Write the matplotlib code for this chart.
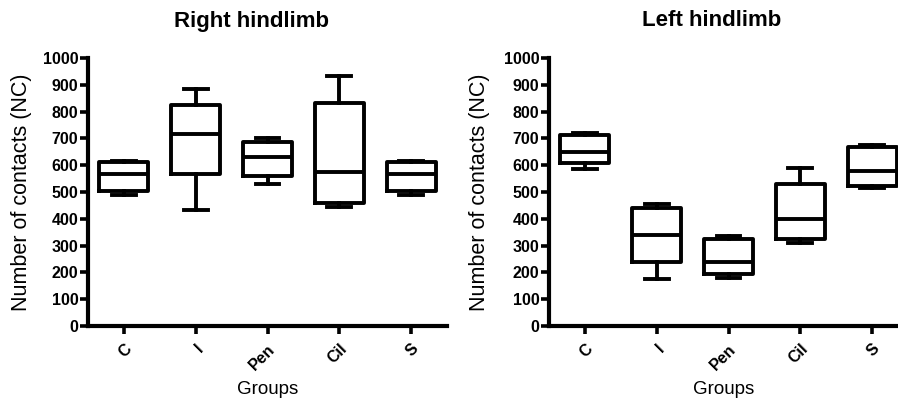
import matplotlib
matplotlib.use("Agg")
import matplotlib.pyplot as plt

plt.rcParams['font.family'] = ['Liberation Sans', 'DejaVu Sans']

groups = ["C", "I", "Pen", "Cil", "S"]

# five-number summaries: min, q1, median, q3, max
right_min = [488, 433, 530, 443, 488]
right_q1 = [502, 567, 560, 458, 502]
right_med = [568, 716, 630, 575, 568]
right_q3 = [612, 826, 685, 832, 612]
right_max = [614, 885, 701, 932, 614]

left_min = [586, 175, 178, 311, 516]
left_q1 = [608, 239, 195, 326, 524]
left_med = [649, 338, 238, 398, 579]
left_q3 = [714, 439, 326, 529, 667]
left_max = [720, 454, 336, 590, 674]

yticks = list(range(0, 1001, 100))


def make_stats(mins, q1s, meds, q3s, maxs):
    stats = []
    for i in range(len(groups)):
        stats.append({"whislo": mins[i], "q1": q1s[i], "med": meds[i],
                      "q3": q3s[i], "whishi": maxs[i], "fliers": []})
    return stats


def draw_panel(ax, stats, xmax, ylab_x):
    lw = 2.8
    ax.bxp(stats, positions=range(1, len(groups) + 1), widths=0.68,
           showfliers=False, showcaps=True,
           boxprops=dict(linewidth=lw, color="black"),
           medianprops=dict(linewidth=lw, color="black"),
           whiskerprops=dict(linewidth=lw, color="black"),
           capprops=dict(linewidth=lw, color="black"),
           capwidths=0.33)
    ax.set_xlim(0.5, xmax)
    ax.set_ylim(0, 1000)
    ax.set_yticks(yticks)
    ax.set_yticklabels([str(t) for t in yticks], fontsize=11.5, fontweight="bold")
    ax.set_xticks(range(1, len(groups) + 1))
    ax.set_xticklabels(groups, rotation=45, fontsize=11.5, fontweight="bold",
                       ha="right", va="top", rotation_mode="anchor")
    for side in ["top", "right"]:
        ax.spines[side].set_visible(False)
    for side in ["left", "bottom"]:
        ax.spines[side].set_linewidth(3)
    ax.tick_params(axis="both", direction="out", length=6, width=2.6, pad=1)
    ax.tick_params(axis="x", pad=5)
    ax.set_ylabel("Number of contacts (NC)", fontsize=15.5)
    ax.set_xlabel("Groups", fontsize=13.5)
    ax.yaxis.set_label_coords(ylab_x, 0.5)
    ax.xaxis.set_label_coords(0.5, -0.205)


fig = plt.figure(figsize=(8.98, 4.0), dpi=100)
ax1 = fig.add_axes([88 / 898, 74 / 400, 359 / 898, 268 / 400])
ax2 = fig.add_axes([549 / 898, 74 / 400, 349 / 898, 268 / 400])

draw_panel(ax1, make_stats(right_min, right_q1, right_med, right_q3, right_max),
           5.5, -0.156)
draw_panel(ax2, make_stats(left_min, left_q1, left_med, left_q3, left_max),
           0.5 + 349 / 71.8, -0.169)

fig.text(252 / 898, 1 - 21 / 400, "Right hindlimb", fontsize=16, fontweight="bold",
         ha="center", va="center")
fig.text(712 / 898, 1 - 21 / 400, "Left hindlimb", fontsize=16, fontweight="bold",
         ha="center", va="center")

fig.savefig("out.png", dpi=100)
